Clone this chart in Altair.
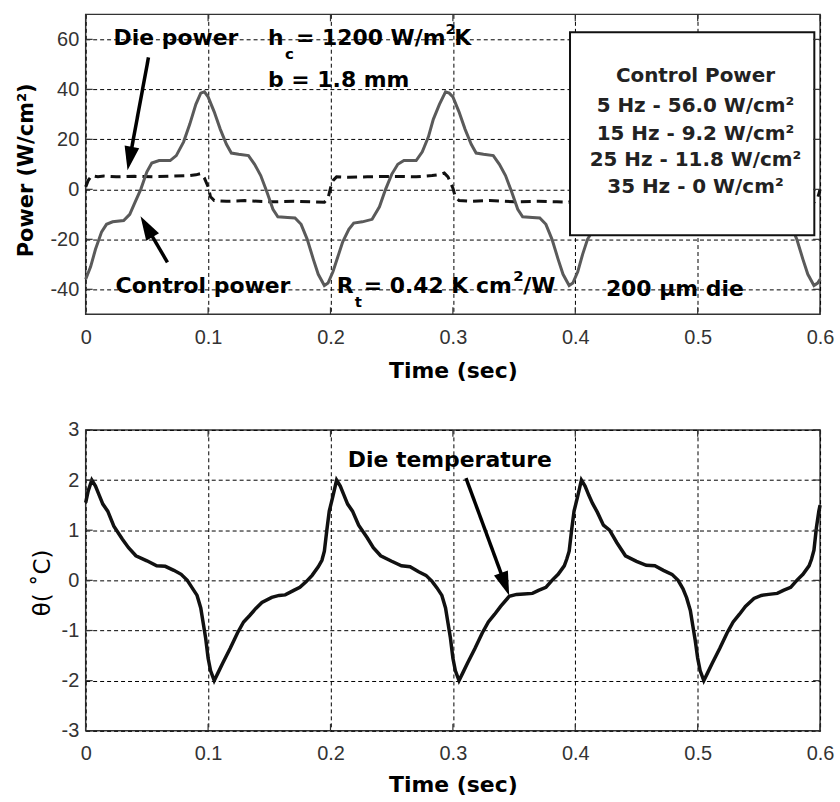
import math
import altair as alt
import pandas as pd

# ---------------- data ----------------
cp_time = [0.000, 0.004, 0.008, 0.013, 0.017, 0.022, 0.031, 0.036, 0.040, 0.045, 0.050, 0.054, 0.060, 0.069,
           0.074, 0.080, 0.085, 0.090, 0.094, 0.097, 0.100, 0.105, 0.110, 0.115, 0.119, 0.125, 0.133, 0.138,
           0.143, 0.148, 0.153, 0.157, 0.165, 0.171, 0.176, 0.181, 0.186, 0.190, 0.195, 0.198,
           0.202, 0.206, 0.210, 0.215, 0.219, 0.226, 0.234, 0.240, 0.245, 0.250, 0.255, 0.260, 0.270,
           0.275, 0.280, 0.284, 0.289, 0.294, 0.297, 0.300, 0.305, 0.310, 0.315, 0.319, 0.325, 0.333, 0.338,
           0.343, 0.348, 0.353, 0.357, 0.365, 0.371, 0.376, 0.381, 0.386, 0.390, 0.395, 0.398,
           0.402, 0.406, 0.410, 0.415, 0.419, 0.426, 0.434, 0.440, 0.445, 0.450, 0.455, 0.460, 0.470,
           0.475, 0.480, 0.485, 0.490, 0.494, 0.497, 0.500, 0.505, 0.510, 0.515, 0.519, 0.525, 0.533, 0.538,
           0.543, 0.548, 0.553, 0.557, 0.565, 0.571, 0.576, 0.581, 0.586, 0.590, 0.595, 0.598, 0.600]
cp_power = [-36, -31, -24, -17, -14, -13, -12.5, -10, -5.5, 0, 7, 10.5, 11.5, 11.5,
            13.5, 19, 26, 34, 38.5, 39, 37, 31, 24, 18, 14.5, 14, 13.5, 10,
            5.5, -1, -8, -11, -11.3, -11.5, -14, -20, -28, -34, -38.5, -37.5,
            -33, -27, -21, -16, -13.5, -13, -12, -7, 0, 6, 10, 11.5, 11.5,
            15, 21, 28, 34, 39, 38.5, 37, 31, 24, 18, 14.5, 14, 13.5, 10,
            5.5, -1, -8, -11, -11.3, -11.5, -14, -20, -28, -34, -38.5, -37.5,
            -33, -26, -20, -16, -13.5, -13, -12, -7, 0, 6, 10, 11.5, 11.5,
            15, 21, 28, 34, 39, 38.5, 37, 31, 24, 18, 14.5, 14, 13.5, 10,
            5.5, -1, -8, -11, -11.3, -11.5, -14, -20, -28, -34, -38.5, -37.5, -36]

dp_time = [0.000, 0.002, 0.005, 0.010, 0.015, 0.025, 0.040, 0.055, 0.070, 0.085, 0.090, 0.094, 0.097,
           0.100, 0.102, 0.105, 0.115, 0.130, 0.150, 0.170, 0.185, 0.195, 0.198,
           0.200, 0.202, 0.205, 0.215, 0.230, 0.250, 0.270, 0.283, 0.290, 0.293, 0.296,
           0.300, 0.302, 0.305, 0.315, 0.330, 0.350, 0.370, 0.385, 0.395, 0.398,
           0.400, 0.402, 0.405, 0.420, 0.450, 0.480, 0.490, 0.494, 0.497,
           0.500, 0.502, 0.505, 0.520, 0.550, 0.580, 0.595, 0.598, 0.600]
dp_power = [1.0, 3.5, 5.5, 5.0, 5.3, 5.0, 5.2, 5.0, 5.3, 5.5, 5.8, 6.3, 4.5,
            1.0, -3.0, -4.5, -4.8, -4.5, -5.0, -4.8, -5.0, -5.2, -3.5,
            0.5, 3.5, 5.0, 4.8, 5.0, 5.2, 5.0, 5.5, 6.0, 6.5, 5.0,
            0.5, -3.0, -4.5, -4.8, -4.5, -5.0, -4.8, -5.0, -5.2, -3.5,
            0.5, 3.5, 5.0, 5.0, 5.2, 5.0, 5.8, 6.3, 4.5,
            0.5, -3.0, -4.5, -4.8, -5.0, -4.8, -5.2, -3.5, 0.0]

temp_time = [0.000, 0.002, 0.005, 0.008, 0.011, 0.014, 0.018, 0.023, 0.030, 0.035, 0.041, 0.050, 0.058,
             0.065, 0.072, 0.078, 0.083, 0.087, 0.091, 0.094, 0.096, 0.098, 0.100, 0.102, 0.105, 0.108,
             0.112, 0.118, 0.124, 0.129, 0.134, 0.139, 0.144, 0.152, 0.158, 0.163, 0.170, 0.175, 0.180,
             0.185, 0.190, 0.193, 0.195, 0.197, 0.199, 0.202, 0.205,
             0.208, 0.211, 0.214, 0.218, 0.223, 0.230, 0.235, 0.241, 0.250, 0.258, 0.265, 0.272, 0.278,
             0.283, 0.287, 0.291, 0.294, 0.296, 0.298, 0.300, 0.302, 0.305, 0.308, 0.312, 0.318, 0.324,
             0.329, 0.334, 0.339, 0.346, 0.352, 0.358, 0.365, 0.370, 0.376, 0.381, 0.386, 0.391, 0.393,
             0.395, 0.397, 0.399, 0.402, 0.405,
             0.408, 0.411, 0.414, 0.418, 0.423, 0.428, 0.434, 0.441, 0.450, 0.458, 0.465, 0.472, 0.479,
             0.484, 0.488, 0.491, 0.494, 0.496, 0.498, 0.500, 0.502, 0.505, 0.508, 0.512, 0.518, 0.524,
             0.529, 0.534, 0.539, 0.546, 0.552, 0.558, 0.565, 0.570, 0.576, 0.581, 0.586, 0.591, 0.593,
             0.595, 0.597, 0.599, 0.600]
temp_val = [1.55, 1.78, 2.00, 1.88, 1.70, 1.52, 1.38, 1.08, 0.82, 0.65, 0.49, 0.39, 0.29,
            0.28, 0.20, 0.12, 0.00, -0.15, -0.30, -0.55, -0.85, -1.15, -1.55, -1.80, -2.00, -1.85,
            -1.65, -1.36, -1.05, -0.83, -0.70, -0.56, -0.44, -0.34, -0.30, -0.29, -0.20, -0.14, -0.03,
            0.10, 0.27, 0.40, 0.58, 1.00, 1.38, 1.68, 2.00,
            1.88, 1.70, 1.52, 1.38, 1.10, 0.85, 0.65, 0.49, 0.38, 0.29, 0.27, 0.17, 0.10,
            -0.02, -0.15, -0.30, -0.55, -0.85, -1.15, -1.55, -1.80, -2.00, -1.85, -1.65, -1.36, -1.05,
            -0.83, -0.68, -0.52, -0.32, -0.28, -0.27, -0.26, -0.20, -0.14, 0.00, 0.12, 0.29, 0.42,
            0.58, 1.00, 1.38, 1.68, 2.00,
            1.88, 1.70, 1.54, 1.36, 1.10, 1.00, 0.75, 0.49, 0.38, 0.30, 0.29, 0.20, 0.12,
            0.00, -0.17, -0.35, -0.60, -0.90, -1.20, -1.55, -1.80, -2.00, -1.85, -1.65, -1.36, -1.05,
            -0.83, -0.68, -0.52, -0.36, -0.30, -0.28, -0.26, -0.20, -0.14, 0.00, 0.12, 0.29, 0.42,
            0.60, 1.05, 1.38, 1.50]

x_ticks = [0, 0.1, 0.2, 0.3, 0.4, 0.5, 0.6]
top_y_ticks = [-40, -20, 0, 20, 40, 60]
bot_y_ticks = [-3, -2, -1, 0, 1, 2, 3]

# annotation texts (text, time, value, font size)
top_notes = [("Die power", 0.0228, 60.4, 22), ("h", 0.1490, 60.4, 22), ("c", 0.1628, 54.0, 15),
             ("= 1200 W/m", 0.1718, 60.4, 22), ("2", 0.2939, 64.0, 15), ("K", 0.3012, 60.4, 22),
             ("b = 1.8 mm", 0.1490, 43.6, 22), ("Control power", 0.0244, -38.8, 22),
             ("R", 0.2052, -38.8, 22), ("t", 0.2198, -45.2, 15), ("= 0.42 K cm", 0.2271, -38.8, 22),
             ("2", 0.3493, -34.8, 15), ("/W", 0.3574, -38.8, 22), ("200 \u03bcm die", 0.4250, -40.0, 22)]
bot_notes = [("Die temperature", 0.2141, 2.40, 22)]

legend_lines = ["Control Power", "5 Hz - 56.0 W/cm\u00b2", "15 Hz - 9.2 W/cm\u00b2",
                "25 Hz - 11.8 W/cm\u00b2", "35 Hz - 0 W/cm\u00b2"]
legend_line_y = [45.2, 33.2, 22.0, 11.6, 0.8]
legend_center_t = 0.4982
legend_box = (0.3957, 0.5953, 62.8, -18.4)

# arrows: (tail_t, tail_v, tip_t, tip_v)
top_arrows = [(0.0513, 52.8, 0.0342, 7.6), (0.0668, -29.2, 0.0448, -10.8)]
bot_arrows = [(0.3107, 2.04, 0.3460, -0.30)]

# ---------------- layout / style ----------------
W = 737
H_TOP = 301
H_BOT = 302
TOP_DOM = [-50, 70]
BOT_DOM = [-3, 3]
HEAD_PATH = "M0,0 L0.62,2 L-0.62,2 Z"
HEAD_SIZE = 576
BOLD = "DejaVu Sans"
LABEL_EXPR = "'' + datum.value"

xscale = alt.Scale(domain=[0, 0.6], nice=False, zero=False)


def x_axis(title_y):
    return alt.Axis(values=x_ticks, labelExpr=LABEL_EXPR, title="Time (sec)", grid=True, gridDash=[4, 3],
                    gridColor="#000", gridWidth=1, gridOpacity=1, ticks=False, domain=False,
                    labelFont="Liberation Sans", labelFontSize=20, labelColor="#333", labelPadding=13,
                    labelFlush=False, labelOverlap=False,
                    titleFont=BOLD, titleFontWeight="bold", titleFontSize=22, titleColor="#000",
                    titleY=title_y, titleBaseline="middle")


def y_axis(values, title, tx, ty, tsize, tweight):
    return alt.Axis(values=values, labelExpr=LABEL_EXPR, title=title, grid=True, gridDash=[4, 3],
                    gridColor="#000", gridWidth=1, gridOpacity=1, ticks=False, domain=False,
                    labelFont="Liberation Sans", labelFontSize=20, labelColor="#333", labelPadding=7,
                    labelOverlap=False,
                    titleFont=BOLD, titleFontWeight=tweight, titleFontSize=tsize, titleColor="#000",
                    titleX=tx, titleY=ty, titleAngle=270, titleAlign="center", titleBaseline="middle")


def panel(lines, notes, arrows, dom, H, yaxis, title_y, legend=False):
    yscale = alt.Scale(domain=dom, nice=False, zero=False)
    span = dom[1] - dom[0]
    X = lambda f: alt.X(f, type="quantitative", scale=xscale, axis=x_axis(title_y))
    Y = lambda f: alt.Y(f, type="quantitative", scale=yscale, axis=yaxis)

    layers = list(lines(X, Y))

    # arrows
    rows, heads = [], []
    for (t0, v0, t1, v1) in arrows:
        dx = (t1 - t0) * W / 0.6
        dy = -(v1 - v0) * H / span
        L = math.hypot(dx, dy)
        ux, uy = dx / L, dy / L
        back = 12
        ex = t1 - back * ux * 0.6 / W
        ey = v1 + back * uy * span / H
        rows.append({"t": t0, "v": v0, "t2": ex, "v2": ey})
        heads.append({"t": t1, "v": v1, "angle": math.degrees(math.atan2(dx, -dy)) % 360})
    if rows:
        layers.append(alt.Chart(pd.DataFrame(rows)).mark_rule(color="#000", strokeWidth=3.5,
                                                               strokeCap="butt").encode(
            x=X("t"), y=Y("v"), x2="t2:Q", y2="v2:Q"))
        layers.append(alt.Chart(pd.DataFrame(heads)).mark_point(shape=HEAD_PATH, filled=True,
                                                                size=HEAD_SIZE, color="#000",
                                                                opacity=1, strokeWidth=0).encode(
            x=X("t"), y=Y("v"), angle=alt.Angle("angle:Q", scale=None)))

    # annotation texts
    nd = pd.DataFrame(notes, columns=["label", "t", "v", "size"])
    layers.append(alt.Chart(nd).mark_text(font=BOLD, fontWeight="bold", align="left",
                                          baseline="middle", color="#000").encode(
        x=X("t"), y=Y("v"), text="label:N", size=alt.Size("size:Q", scale=None)))

    if legend:
        t0, t1, v0, v1 = legend_box
        bd = pd.DataFrame([{"t": t0, "t2": t1, "v": v0, "v2": v1}])
        layers.append(alt.Chart(bd).mark_rect(fill="#fff", stroke="#111", strokeWidth=2).encode(
            x=X("t"), x2="t2:Q", y=Y("v"), y2="v2:Q"))
        ld = pd.DataFrame({"label": legend_lines, "v": legend_line_y,
                           "t": [legend_center_t] * len(legend_lines)})
        layers.append(alt.Chart(ld).mark_text(font=BOLD, fontWeight="bold", fontSize=20,
                                              align="center", baseline="middle", color="#222").encode(
            x=X("t"), y=Y("v"), text="label:N"))

    # inward tick marks (MATLAB style)
    xt = pd.DataFrame({"t": x_ticks})
    yt = pd.DataFrame({"v": yaxis.values})
    layers.append(alt.Chart(xt).mark_rule(color="#333", strokeWidth=1.2).encode(
        x=X("t"), y=alt.value(H), y2=alt.value(H - 7)))
    layers.append(alt.Chart(xt).mark_rule(color="#333", strokeWidth=1.2).encode(
        x=X("t"), y=alt.value(0), y2=alt.value(7)))
    layers.append(alt.Chart(yt).mark_rule(color="#333", strokeWidth=1.2).encode(
        y=Y("v"), x=alt.value(0), x2=alt.value(7)))
    layers.append(alt.Chart(yt).mark_rule(color="#333", strokeWidth=1.2).encode(
        y=Y("v"), x=alt.value(W - 7), x2=alt.value(W)))

    return alt.layer(*layers).properties(width=W, height=H)


def top_lines(X, Y):
    dp = pd.DataFrame({"t": dp_time, "v": dp_power, "i": range(len(dp_time))})
    cp = pd.DataFrame({"t": cp_time, "v": cp_power, "i": range(len(cp_time))})
    yield alt.Chart(dp).mark_line(color="#111", strokeWidth=3, strokeDash=[10, 6]).encode(
        x=X("t"), y=Y("v"), order="i:Q")
    yield alt.Chart(cp).mark_line(color="#5a5a5a", strokeWidth=3).encode(
        x=X("t"), y=Y("v"), order="i:Q")


def bot_lines(X, Y):
    td = pd.DataFrame({"t": temp_time, "v": temp_val, "i": range(len(temp_time))})
    yield alt.Chart(td).mark_line(color="#111", strokeWidth=3.5).encode(
        x=X("t"), y=Y("v"), order="i:Q")


top = panel(top_lines, top_notes, top_arrows, TOP_DOM, H_TOP,
            y_axis(top_y_ticks, "Power (W/cm\u00b2)", -59, 156, 21, "bold"), 56, legend=True)
bottom = panel(bot_lines, bot_notes, bot_arrows, BOT_DOM, H_BOT,
               y_axis(bot_y_ticks, "\u03b8( \u02daC)", -43, 153, 23, "normal"), 54)

chart = alt.vconcat(top, bottom, spacing=37).properties(
    padding={"left": 15, "top": 11, "right": 5, "bottom": 0},
    background="#ffffff",
).configure_view(stroke="#333", strokeWidth=1.5)

chart.save("out.html", embed_options={"renderer": "svg", "actions": False})
